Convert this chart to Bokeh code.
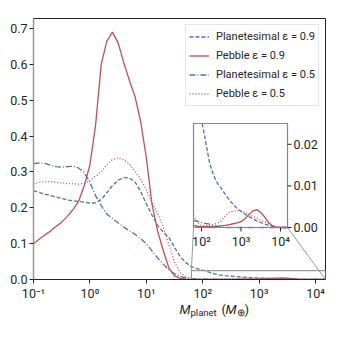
import math
from bokeh.plotting import figure
from bokeh.layouts import column
from bokeh.models import (Range1d, Legend, LegendItem, Label, FixedTicker, LogAxis,
                          LinearAxis, LogScale, LinearScale, NumeralTickFormatter)
from bokeh.core.properties import value
from bokeh.embed import file_html
from bokeh.resources import INLINE

# ---------------- data ----------------
log_mass = [round(-1.0 + 0.1 * i, 1) for i in range(53)]  # log10(M/M_earth): -1.0 .. 4.2

plan_09 = [0.248, 0.243, 0.238, 0.234, 0.230, 0.226, 0.222, 0.220, 0.218, 0.216,
           0.213, 0.214, 0.223, 0.242, 0.262, 0.277, 0.284, 0.283, 0.272, 0.246,
           0.211, 0.180, 0.151, 0.132, 0.117, 0.090, 0.064, 0.047, 0.036, 0.030,
           0.0260, 0.0210, 0.0158, 0.0127, 0.0107, 0.0094, 0.0080, 0.0067, 0.0056, 0.0046,
           0.0039, 0.0032, 0.0026, 0.0021, 0.0016, 0.0012, 0.0008, 0.0005, 0.0003, 0.0001,
           0.0, 0.0, 0.0]
peb_09 = [0.100, 0.112, 0.124, 0.135, 0.148, 0.160, 0.176, 0.195, 0.218, 0.262,
          0.320, 0.430, 0.600, 0.665, 0.690, 0.660, 0.605, 0.555, 0.510, 0.440,
          0.340, 0.210, 0.135, 0.081, 0.032, 0.010, 0.003, 0.001, 0.0005, 0.0003,
          0.0002, 0.0002, 0.0002, 0.0002, 0.0003, 0.0004, 0.0005, 0.0007, 0.0009, 0.0011,
          0.0014, 0.0021, 0.0031, 0.0040, 0.0043, 0.0036, 0.0025, 0.0012, 0.0003, 0.0001,
          0.0, 0.0, 0.0]
plan_05 = [0.323, 0.325, 0.324, 0.319, 0.315, 0.313, 0.315, 0.316, 0.311, 0.298,
           0.271, 0.234, 0.206, 0.183, 0.170, 0.158, 0.146, 0.136, 0.126, 0.114,
           0.100, 0.080, 0.060, 0.043, 0.027, 0.016, 0.009, 0.004, 0.0017, 0.0015,
           0.0012, 0.0010, 0.0008, 0.0005, 0.0002, 0.0001, 0.0, 0.0, 0.0, 0.0,
           0.0, 0.0, 0.0, 0.0, 0.0, 0.0, 0.0, 0.0, 0.0, 0.0,
           0.0, 0.0, 0.0]
peb_05 = [0.267, 0.271, 0.273, 0.273, 0.271, 0.269, 0.268, 0.267, 0.266, 0.268,
          0.276, 0.288, 0.300, 0.320, 0.335, 0.339, 0.334, 0.322, 0.302, 0.280,
          0.250, 0.215, 0.185, 0.146, 0.098, 0.048, 0.020, 0.007, 0.0029, 0.0012,
          0.0005, 0.0004, 0.0005, 0.0007, 0.0010, 0.0016, 0.0027, 0.0036, 0.0040, 0.0040,
          0.0039, 0.0036, 0.0031, 0.0027, 0.0023, 0.0018, 0.0013, 0.0009, 0.0005, 0.0002,
          0.0001, 0.0, 0.0]

series_labels = ["Planetesimal \u03b5 = 0.9", "Pebble \u03b5 = 0.9",
                 "Planetesimal \u03b5 = 0.5", "Pebble \u03b5 = 0.5"]

main_x_range = (0.1, 1.5e4)
main_y_range = (0.0, 0.728)
inset_x_range = (63.0, 1.5e4)
inset_y_range = (0.0, 0.025)

main_y_ticks = [0.0, 0.1, 0.2, 0.3, 0.4, 0.5, 0.6, 0.7]
x_ticks = [0.1, 1, 10, 100, 1000, 10000]
x_tick_labels = ["10\u207b\u00b9", "10\u2070", "10\u00b9", "10\u00b2", "10\u00b3", "10\u2074"]
inset_x_ticks = [100, 1000, 10000]
inset_x_tick_labels = ["10\u00b2", "10\u00b3", "10\u2074"]
inset_y_ticks = [0.0, 0.01, 0.02]
inset_y_tick_labels = ["0.00", "0.01", "0.02"]

mass = [10 ** v for v in log_mass]

BLUE = "#4C72B0"
RED = "#C44E52"
FONT = "Roboto"
TXT = "#262626"
TICK_FS = "12.5px"

styles = [
    dict(color=BLUE, line_dash="4 2"),
    dict(color=RED, line_dash="solid"),
    dict(color=BLUE, line_dash="6 2 1 2"),
    dict(color=RED, line_dash="1 2"),
]
series = [plan_09, peb_09, plan_05, peb_05]
LW = 1.3

# ---------------- geometry (pixels) ----------------
MAIN_FW, MAIN_FH = 292, 261
MAIN_L, MAIN_T, MAIN_R, MAIN_B = 33, 18, 14, 24
LABEL_H = 34
# inset frame position inside the main frame (px from frame left / frame bottom)
INS_X0, INS_X1 = 160, 254
INS_Y0, INS_Y1 = 52, 156
fx0, fx1 = INS_X0 / MAIN_FW, INS_X1 / MAIN_FW
fy0, fy1 = INS_Y0 / MAIN_FH, INS_Y1 / MAIN_FH

# ---------------- main figure ----------------
p = figure(x_range=Range1d(0, 1), y_range=Range1d(0, 1),
           x_axis_location=None, y_axis_location=None,
           frame_width=MAIN_FW, frame_height=MAIN_FH,
           min_border_left=MAIN_L, min_border_top=MAIN_T, min_border_right=MAIN_R,
           min_border_bottom=MAIN_B, output_backend="svg", toolbar_location=None)
p.grid.visible = False
p.outline_line_color = "#222222"
p.outline_line_width = 1
p.extra_x_ranges = {"m": Range1d(*main_x_range)}
p.extra_x_scales = {"m": LogScale()}
p.extra_y_ranges = {"f": Range1d(*main_y_range)}
p.extra_y_scales = {"f": LinearScale()}

def style_axis(ax):
    ax.major_label_text_font = FONT
    ax.major_label_text_font_size = TICK_FS
    ax.major_label_text_color = TXT
    ax.major_tick_out = 4
    ax.major_tick_in = 0
    ax.minor_tick_out = 0
    ax.minor_tick_in = 0
    ax.major_tick_line_color = "#222222"
    ax.major_label_standoff = 2

xax = LogAxis(x_range_name="m", ticker=FixedTicker(ticks=x_ticks, minor_ticks=[]),
              major_label_overrides={t: l for t, l in zip(x_ticks, x_tick_labels)})
style_axis(xax)
xax.axis_line_color = "#222222"
p.add_layout(xax, "below")
yax = LinearAxis(y_range_name="f", ticker=FixedTicker(ticks=main_y_ticks, minor_ticks=[]),
                 formatter=NumeralTickFormatter(format="0.0"))
style_axis(yax)
yax.axis_line_color = "#999999"
yax.axis_line_width = 1.5
p.add_layout(yax, "left")

renderers = []
for ys, st in zip(series, styles):
    r = p.line(mass, ys, line_color=st["color"], line_dash=st["line_dash"], line_width=LW,
               x_range_name="m", y_range_name="f")
    renderers.append(r)

# zoom indicator rectangle (main data coordinates)
p.quad(left=inset_x_range[0], right=inset_x_range[1], bottom=inset_y_range[0],
       top=inset_y_range[1], fill_color=None, line_color="#999999", line_width=1.2,
       x_range_name="m", y_range_name="f")

# connectors: inset frame corners (frame fractions) -> rectangle corners
dec = math.log10(main_x_range[1] / main_x_range[0])
def fx_to_mass(f):
    return 10 ** (math.log10(main_x_range[0]) + f * dec)
def fy_to_val(f):
    return main_y_range[0] + f * (main_y_range[1] - main_y_range[0])

p.line([fx_to_mass(fx0), inset_x_range[0]], [fy_to_val(fy0), inset_y_range[1]],
       line_color="#999999", line_width=1, x_range_name="m", y_range_name="f")
p.line([fx_to_mass(fx1), inset_x_range[1]], [fy_to_val(fy0), inset_y_range[0]],
       line_color="#999999", line_width=1, x_range_name="m", y_range_name="f")

# ---------------- inset (sub-coordinates, x in log10 mass) ----------------
lxmin, lxmax = math.log10(inset_x_range[0]), math.log10(inset_x_range[1])
sub = p.subplot(x_source=Range1d(lxmin, lxmax), y_source=Range1d(*inset_y_range),
                x_scale=LinearScale(), y_scale=LinearScale(),
                x_target=Range1d(fx0, fx1), y_target=Range1d(fy0, fy1))

sub.quad(left=lxmin, right=lxmax, bottom=inset_y_range[0],
         top=inset_y_range[1], fill_color="white", line_color=None)

def clip_segment(x0, y0, x1, y1, xmin, xmax, ymin, ymax):
    dx, dy = x1 - x0, y1 - y0
    t0, t1 = 0.0, 1.0
    for pp, qq in ((-dx, x0 - xmin), (dx, xmax - x0), (-dy, y0 - ymin), (dy, ymax - y0)):
        if pp == 0:
            if qq < 0:
                return None
        else:
            t = qq / pp
            if pp < 0:
                if t > t1:
                    return None
                t0 = max(t0, t)
            else:
                if t < t0:
                    return None
                t1 = min(t1, t)
    return (x0 + t0 * dx, y0 + t0 * dy, x0 + t1 * dx, y0 + t1 * dy)

def clip_polyline(lx, ys, xmin, xmax, ymin, ymax):
    pieces, cur = [], []
    for i in range(len(lx) - 1):
        s = clip_segment(lx[i], ys[i], lx[i + 1], ys[i + 1], xmin, xmax, ymin, ymax)
        if s is None:
            if cur:
                pieces.append(cur)
                cur = []
            continue
        a, b = (s[0], s[1]), (s[2], s[3])
        if not cur:
            cur = [a]
        elif abs(cur[-1][0] - a[0]) > 1e-12 or abs(cur[-1][1] - a[1]) > 1e-12:
            pieces.append(cur)
            cur = [a]
        cur.append(b)
    if cur:
        pieces.append(cur)
    return pieces

for ys, st in zip(series, styles):
    pieces = clip_polyline(log_mass, ys, lxmin, lxmax, -1.0, inset_y_range[1])
    sub.multi_line(xs=[[a for a, _ in pc] for pc in pieces],
                   ys=[[b for _, b in pc] for pc in pieces],
                   line_color=st["color"], line_dash=st["line_dash"], line_width=LW)

# inset frame
sub.quad(left=lxmin, right=lxmax, bottom=inset_y_range[0],
         top=inset_y_range[1], fill_color=None, line_color="#888888", line_width=1.2)

# inset ticks and labels
ins_xt = [math.log10(t) for t in inset_x_ticks]
sub.ray(x=ins_xt, y=[inset_y_range[0]] * len(ins_xt), length=4,
        length_units="screen", angle=-math.pi / 2, line_color="#222222", line_width=1)
sub.text(x=ins_xt, y=[inset_y_range[0]] * len(ins_xt), text=inset_x_tick_labels,
         text_font=value(FONT), text_font_size=TICK_FS, text_color=TXT,
         text_align="center", text_baseline="top", y_offset=6)
sub.ray(x=[lxmax] * len(inset_y_ticks), y=inset_y_ticks, length=4,
        length_units="screen", angle=0, line_color="#222222", line_width=1)
sub.text(x=[lxmax] * len(inset_y_ticks), y=inset_y_ticks, text=inset_y_tick_labels,
         text_font=value(FONT), text_font_size=TICK_FS, text_color=TXT,
         text_align="left", text_baseline="middle", x_offset=6)

# ---------------- legend ----------------
legend = Legend(items=[LegendItem(label=l, renderers=[r]) for l, r in zip(series_labels, renderers)],
                location="top_right")
legend.label_text_font = FONT
legend.label_text_font_size = "11px"
legend.label_text_color = TXT
legend.border_line_color = "#cccccc"
legend.background_fill_alpha = 0.9
legend.margin = 6
legend.padding = 3
legend.spacing = 2
legend.glyph_width = 20
legend.glyph_height = 17
legend.label_height = 17
legend.label_standoff = 7
p.add_layout(legend)

# ---------------- x-axis label strip (separate small panel below) ----------------
lab = figure(width=MAIN_L + MAIN_FW + MAIN_R, height=LABEL_H,
             x_range=Range1d(0, 1), y_range=Range1d(0, 1),
             x_axis_location=None, y_axis_location=None, min_border=0,
             output_backend="svg", toolbar_location=None)
lab.grid.visible = False
lab.outline_line_color = None

base = 28   # baseline, px above the strip's bottom
parts = [
    ("M", 146, base, "13px", "italic"),
    ("planet", 157, base - 3, "9.5px", "normal"),
    ("(", 188, base, "13px", "normal"),
    ("M", 192, base, "13px", "italic"),
    ("\u2295", 203, base - 3, "9.5px", "normal"),
    (")", 211, base, "13px", "normal"),
]
for txt, x, y, size, style in parts:
    lab.add_layout(Label(x=x, y=y, x_units="screen", y_units="screen", text=txt,
                         text_font=FONT, text_font_size=size, text_font_style=style,
                         text_color=TXT, text_baseline="alphabetic"))

layout = column(p, lab, spacing=0)
open("out.html", "w").write(file_html(layout, INLINE))
